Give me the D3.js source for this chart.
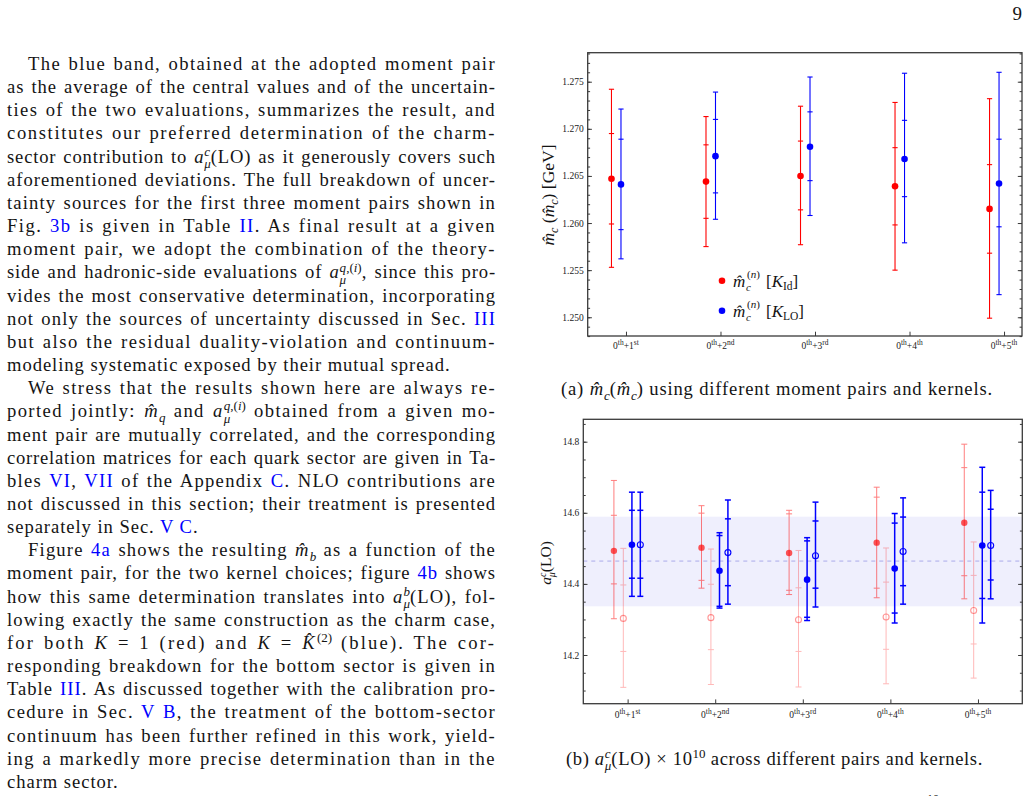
<!DOCTYPE html>
<html><head><meta charset="utf-8">
<script src="https://cdn.jsdelivr.net/npm/d3@7"></script>
<style>
body{margin:0;background:#fff;width:1030px;height:796px;overflow:hidden;position:relative;font-family:"Liberation Serif","Times New Roman",serif;color:#141414;}
#col{position:absolute;left:7px;top:52px;width:489px;font-size:18.6px;letter-spacing:0.45px;}
.l{height:23.16px;line-height:23.16px;white-space:nowrap;}
.ind{padding-left:21px;}
.b{color:#0000ff;}
.ss{display:inline-block;vertical-align:-0.42em;line-height:0.95;font-size:0.7em;text-align:left;letter-spacing:0;}
.ss span{display:block;}
.cap{position:absolute;font-size:18.6px;line-height:23.16px;white-space:nowrap;}
sup.s{font-size:0.7em;line-height:0;vertical-align:0.55em;letter-spacing:0;}
sub.s{font-size:0.7em;line-height:0;letter-spacing:0;}
svg{position:absolute;left:0;top:0;}
</style></head>
<body>
<div id="col">
<div class="l ind"><span class="c">The blue band, obtained at the adopted moment pair</span></div>
<div class="l"><span class="c">as the average of the central values and of the uncertain-</span></div>
<div class="l"><span class="c">ties of the two evaluations, summarizes the result, and</span></div>
<div class="l"><span class="c">constitutes our preferred determination of the charm-</span></div>
<div class="l"><span class="c">sector contribution to <i>a</i><span class="ss"><span><i>c</i></span><span><i>μ</i></span></span>(LO) as it generously covers such</span></div>
<div class="l"><span class="c">aforementioned deviations. The full breakdown of uncer-</span></div>
<div class="l"><span class="c">tainty sources for the first three moment pairs shown in</span></div>
<div class="l"><span class="c">Fig. <span class="b">3b</span> is given in Table <span class="b">II</span>. As final result at a given</span></div>
<div class="l"><span class="c">moment pair, we adopt the combination of the theory-</span></div>
<div class="l"><span class="c">side and hadronic-side evaluations of <i>a</i><span class="ss"><span><i>q</i>,(<i>i</i>)</span><span><i>μ</i></span></span>, since this pro-</span></div>
<div class="l"><span class="c">vides the most conservative determination, incorporating</span></div>
<div class="l"><span class="c">not only the sources of uncertainty discussed in Sec. <span class="b">III</span></span></div>
<div class="l"><span class="c">but also the residual duality-violation and continuum-</span></div>
<div class="l last"><span class="c">modeling systematic exposed by their mutual spread.</span></div>
<div class="l ind"><span class="c">We stress that the results shown here are always re-</span></div>
<div class="l"><span class="c">ported jointly: <i>m̂</i><sub class="s"><i>q</i></sub> and <i>a</i><span class="ss"><span><i>q</i>,(<i>i</i>)</span><span><i>μ</i></span></span> obtained from a given mo-</span></div>
<div class="l"><span class="c">ment pair are mutually correlated, and the corresponding</span></div>
<div class="l"><span class="c">correlation matrices for each quark sector are given in Ta-</span></div>
<div class="l"><span class="c">bles <span class="b">VI</span>, <span class="b">VII</span> of the Appendix <span class="b">C</span>. NLO contributions are</span></div>
<div class="l"><span class="c">not discussed in this section; their treatment is presented</span></div>
<div class="l last"><span class="c">separately in Sec. <span class="b">V C</span>.</span></div>
<div class="l ind"><span class="c">Figure <span class="b">4a</span> shows the resulting <i>m̂</i><sub class="s"><i>b</i></sub> as a function of the</span></div>
<div class="l"><span class="c">moment pair, for the two kernel choices; figure <span class="b">4b</span> shows</span></div>
<div class="l"><span class="c">how this same determination translates into <i>a</i><span class="ss"><span><i>b</i></span><span><i>μ</i></span></span>(LO), fol-</span></div>
<div class="l"><span class="c">lowing exactly the same construction as the charm case,</span></div>
<div class="l"><span class="c">for both <i>K</i> = 1 (red) and <i>K</i> = <i>K̂</i><sup class="s">(2)</sup> (blue). The cor-</span></div>
<div class="l"><span class="c">responding breakdown for the bottom sector is given in</span></div>
<div class="l"><span class="c">Table <span class="b">III</span>. As discussed together with the calibration pro-</span></div>
<div class="l"><span class="c">cedure in Sec. <span class="b">V B</span>, the treatment of the bottom-sector</span></div>
<div class="l"><span class="c">continuum has been further refined in this work, yield-</span></div>
<div class="l"><span class="c">ing a markedly more precise determination than in the</span></div>
<div class="l last"><span class="c">charm sector.</span></div>
</div>
<div class="cap" data-w="432" style="left:561px;top:377px;"><span class="c">(a) <i>m̂</i><sub class="s"><i>c</i></sub>(<i>m̂</i><sub class="s"><i>c</i></sub>) using different moment pairs and kernels.</span></div>
<div class="cap" data-w="417" style="left:566px;top:747px;"><span class="c">(b) <i>a</i><span class="ss"><span><i>c</i></span><span><i>μ</i></span></span>(LO) × 10<sup class="s">10</sup> across different pairs and kernels.</span></div>
<svg id="fig" width="1030" height="796"></svg>
<script>
// ---------- data ----------
const categories = ["1st", "2nd", "3rd", "4th", "5th"];

// (a) charm mass, kernel K_Id (red) and K_LO (blue)
const mcId        = [1.2647, 1.2644, 1.2650, 1.2639, 1.2615];
const mcIdInLo    = [1.2599, 1.2605, 1.2614, 1.2598, 1.2568];
const mcIdInHi    = [1.2695, 1.2683, 1.2687, 1.2680, 1.2662];
const mcIdOutLo   = [1.2553, 1.2575, 1.2577, 1.2550, 1.2499];
const mcIdOutHi   = [1.2742, 1.2713, 1.2724, 1.2728, 1.2732];
const mcLO        = [1.2641, 1.2671, 1.2681, 1.2668, 1.2642];
const mcLOInLo    = [1.2593, 1.2632, 1.2645, 1.2628, 1.2596];
const mcLOInHi    = [1.2689, 1.2710, 1.2718, 1.2709, 1.2689];
const mcLOOutLo   = [1.2562, 1.2604, 1.2608, 1.2579, 1.2524];
const mcLOOutHi   = [1.2721, 1.2739, 1.2755, 1.2759, 1.2760];
const mcMajorTicks = [1.250, 1.255, 1.260, 1.265, 1.270, 1.275];

// (b) a_mu^c(LO) x 1e10
const redFill      = [14.493, 14.502, 14.487, 14.516, 14.572];
const redFillInLo  = [14.400, 14.410, 14.382, 14.388, 14.423];
const redFillInHi  = [14.593, 14.599, 14.597, 14.644, 14.727];
const redFillOutLo = [14.302, 14.388, 14.370, 14.361, 14.358];
const redFillOutHi = [14.691, 14.620, 14.607, 14.672, 14.793];
const redOpen      = [14.303, 14.305, 14.299, 14.307, 14.325];
const redOpenInLo  = [14.210, 14.215, 14.210, 14.216, 14.231];
const redOpenInHi  = [14.397, 14.399, 14.389, 14.405, 14.424];
const redOpenOutLo = [14.109, 14.117, 14.110, 14.119, 14.135];
const redOpenOutHi = [14.500, 14.498, 14.494, 14.501, 14.518];
const blueFill      = [14.510, 14.437, 14.412, 14.443, 14.508];
const blueFillInLo  = [14.416, 14.337, 14.306, 14.318, 14.359];
const blueFillInHi  = [14.607, 14.536, 14.521, 14.571, 14.658];
const blueFillOutLo = [14.365, 14.332, 14.297, 14.290, 14.290];
const blueFillOutHi = [14.658, 14.544, 14.530, 14.598, 14.728];
const blueOpen      = [14.510, 14.488, 14.479, 14.491, 14.508];
const blueOpenInLo  = [14.416, 14.395, 14.388, 14.395, 14.411];
const blueOpenInHi  = [14.607, 14.583, 14.577, 14.588, 14.610];
const blueOpenOutLo = [14.365, 14.343, 14.335, 14.343, 14.358];
const blueOpenOutHi = [14.658, 14.636, 14.630, 14.642, 14.663];
const bandRange  = [14.337, 14.589];
const bandCenter = 14.464;
const aMajorTicks = [14.2, 14.4, 14.6, 14.8];

// ---------- justify text lines exactly ----------
function contentWidth(el) { return el.getBoundingClientRect().width; }
const COLW = 489;
document.querySelectorAll("#col .l").forEach(div => {
  const c = div.querySelector(".c");
  const n = c.textContent.length;
  const spaces = (c.textContent.match(/ /g) || []).length;
  const target = COLW - (div.classList.contains("ind") ? 21 : 0);
  let ls = 0.45;
  if (div.classList.contains("last")) {
    c.style.letterSpacing = "0.95px";
    return;
  }
  // widen glyph spacing so that only ~1.4px per space remains for justification
  const extra0 = target - contentWidth(c);
  ls = Math.max(0, ls + (extra0 - spaces * 1.4) / n);
  c.style.letterSpacing = ls + "px";
  for (let k = 0; k < 3; k++) {
    const extra = target - contentWidth(c);
    const cur = parseFloat(c.style.wordSpacing || "0");
    if (spaces > 0) c.style.wordSpacing = (cur + extra / spaces) + "px";
  }
});
document.querySelectorAll(".cap").forEach(div => {
  const c = div.querySelector(".c");
  const target = +div.dataset.w;
  const n = c.textContent.length;
  let ls = 0;
  for (let k = 0; k < 3; k++) {
    ls += (target - contentWidth(c)) / n;
    c.style.letterSpacing = ls + "px";
  }
});

// ---------- drawing ----------
const svg = d3.select("#fig");
const FRAME = "#3a3a3a";
const SERIF = "Liberation Serif";

svg.append("text").attr("x", 1022).attr("y", 20).attr("text-anchor", "end")
  .attr("font-family", SERIF).attr("font-size", 19).attr("fill", "#141414").text("9");
svg.append("text").attr("x", 927).attr("y", 803)
  .attr("font-family", SERIF).attr("font-size", 12).attr("fill", "#141414").text("10");

function frame(cfg) {
  const g = svg.append("g");
  const x = d3.scaleLinear().domain(cfg.xd).range([cfg.L, cfg.R]);
  const y = d3.scaleLinear().domain(cfg.yd).range([cfg.B, cfg.T]);
  return {g, x, y};
}

function axes(P, cfg) {
  const {g, x, y} = P;
  const minor = d3.range(cfg.minor[0], cfg.minor[1] + 1e-9, cfg.minor[2]);
  const styleAx = sel => { sel.select(".domain").remove(); sel.selectAll("line").attr("stroke", FRAME).attr("stroke-width", 1); };
  g.append("g").attr("transform", `translate(${cfg.L},0)`)
    .call(d3.axisLeft(y).tickValues(cfg.major).tickSize(-4.2).tickPadding(6).tickFormat(d3.format(cfg.fmt)))
    .call(styleAx)
    .call(s => s.selectAll("text").attr("font-family", SERIF).attr("font-size", 9.5).attr("fill", "#222").attr("x", -4));
  g.append("g").attr("transform", `translate(${cfg.L},0)`)
    .call(d3.axisLeft(y).tickValues(minor).tickSize(-2.4).tickFormat(""))
    .call(styleAx);
  g.append("g").attr("transform", `translate(${cfg.R},0)`)
    .call(d3.axisRight(y).tickValues(cfg.major).tickSize(-4.2).tickFormat(""))
    .call(styleAx);
  g.append("g").attr("transform", `translate(${cfg.R},0)`)
    .call(d3.axisRight(y).tickValues(minor).tickSize(-2.4).tickFormat(""))
    .call(styleAx);
  g.append("g").attr("transform", `translate(0,${cfg.B})`)
    .call(d3.axisBottom(x).tickValues(d3.range(1, categories.length + 1)).tickSize(-4.3).tickFormat(""))
    .call(styleAx);
  categories.forEach((c, i) => {
    const t = g.append("text").attr("x", x(i + 1)).attr("y", cfg.labY).attr("text-anchor", "middle")
      .attr("font-family", SERIF).attr("font-size", 9.5).attr("fill", "#222");
    t.append("tspan").text("0");
    t.append("tspan").attr("font-size", 7.5).attr("dy", -3.6).text("th");
    t.append("tspan").attr("dy", 3.6).text("+" + c.slice(0, 1));
    t.append("tspan").attr("font-size", 7.5).attr("dy", -3.6).text(c.slice(1));
  });
  g.append("rect").attr("x", cfg.L).attr("y", cfg.T).attr("width", cfg.R - cfg.L).attr("height", cfg.B - cfg.T)
    .attr("fill", "none").attr("stroke", FRAME).attr("stroke-width", 1.3);
}

function series(P, s) {
  const {g, x, y} = P;
  const gb = g.append("g").attr("opacity", s.barOp);
  s.c.forEach((v, i) => {
    const cx = x(i + 1) + s.off;
    const all = [s.iLo[i], s.iHi[i], s.oLo[i], s.oHi[i]];
    gb.append("line").attr("x1", cx).attr("x2", cx)
      .attr("y1", y(d3.min(all))).attr("y2", y(d3.max(all)))
      .attr("stroke", s.color).attr("stroke-width", s.w);
    all.forEach(val => {
      gb.append("line").attr("x1", cx - s.cap).attr("x2", cx + s.cap)
        .attr("y1", y(val)).attr("y2", y(val))
        .attr("stroke", s.color).attr("stroke-width", s.w);
    });
  });
  g.append("g").attr("opacity", s.dotOp).selectAll("circle").data(s.c).join("circle")
    .attr("cx", (d, i) => x(i + 1) + s.off).attr("cy", d => y(d))
    .attr("r", s.open ? 3.0 : s.r)
    .attr("fill", s.open ? "none" : s.color)
    .attr("stroke", s.open ? s.color : "none").attr("stroke-width", 1.1);
}

// ----- chart (a) -----
const cfgA = {L: 587.7, R: 1022, T: 52.7, B: 336, xd: [0.595, 5.19], yd: [1.24801, 1.27808],
  major: mcMajorTicks, minor: [1.248, 1.278, 0.001], fmt: ".3f", labY: 349};
const A = frame(cfgA);
axes(A, cfgA);
series(A, {c: mcId, iLo: mcIdInLo, iHi: mcIdInHi, oLo: mcIdOutLo, oHi: mcIdOutHi,
  off: -14.5, color: "#ff0000", w: 1.1, cap: 2.6, r: 3.3, barOp: 1, dotOp: 1});
series(A, {c: mcLO, iLo: mcLOInLo, iHi: mcLOInHi, oLo: mcLOOutLo, oHi: mcLOOutHi,
  off: -5, color: "#0000ff", w: 1.1, cap: 2.6, r: 3.3, barOp: 1, dotOp: 1});

{
  const t = A.g.append("text").attr("transform", "translate(554,195) rotate(-90)").attr("text-anchor", "middle")
    .attr("font-family", SERIF).attr("font-size", 17.5).attr("fill", "#141414");
  t.append("tspan").attr("font-style", "italic").text("m̂");
  t.append("tspan").attr("font-style", "italic").attr("font-size", 12).attr("dy", 3.5).text("c");
  t.append("tspan").attr("dy", -3.5).text(" (");
  t.append("tspan").attr("font-style", "italic").text("m̂");
  t.append("tspan").attr("font-style", "italic").attr("font-size", 12).attr("dy", 3.5).text("c");
  t.append("tspan").attr("dy", -3.5).text(") [GeV]");
}
{
  const leg = [{color: "#ff0000", sub: "Id", y: 280.7}, {color: "#0000ff", sub: "LO", y: 310.7}];
  leg.forEach(d => {
    A.g.append("circle").attr("cx", 722).attr("cy", d.y).attr("r", 3.3).attr("fill", d.color);
    const base = d.y + 6;
    A.g.append("text").attr("x", 733).attr("y", base).attr("font-family", SERIF)
      .attr("font-size", 17).attr("font-style", "italic").attr("fill", "#141414").text("m̂");
    const sup = A.g.append("text").attr("x", 747).attr("y", base - 9).attr("font-family", SERIF)
      .attr("font-size", 11).attr("fill", "#141414");
    sup.append("tspan").text("(");
    sup.append("tspan").attr("font-style", "italic").text("n");
    sup.append("tspan").text(")");
    A.g.append("text").attr("x", 746).attr("y", base + 4).attr("font-family", SERIF)
      .attr("font-size", 11).attr("font-style", "italic").attr("fill", "#141414").text("c");
    const t = A.g.append("text").attr("x", 766).attr("y", base).attr("font-family", SERIF)
      .attr("font-size", 17).attr("fill", "#141414");
    t.append("tspan").text("[");
    t.append("tspan").attr("font-style", "italic").text("K");
    t.append("tspan").attr("font-size", 11.5).attr("dy", 3).text(d.sub);
    t.append("tspan").attr("dy", -3).text("]");
  });
}

// ----- chart (b) -----
const cfgB = {L: 583.3, R: 1022.3, T: 419.3, B: 703.7, xd: [0.494, 5.506], yd: [14.063, 14.863],
  major: aMajorTicks, minor: [14.1, 14.85, 0.05], fmt: ".1f", labY: 717.5};
const Bc = frame(cfgB);
Bc.g.append("rect").attr("x", cfgB.L).attr("width", cfgB.R - cfgB.L)
  .attr("y", Bc.y(bandRange[1])).attr("height", Bc.y(bandRange[0]) - Bc.y(bandRange[1]))
  .attr("fill", "#efeffd");
Bc.g.append("line").attr("x1", cfgB.L).attr("x2", cfgB.R)
  .attr("y1", Bc.y(bandCenter)).attr("y2", Bc.y(bandCenter))
  .attr("stroke", "#c8c8f2").attr("stroke-width", 1.6).attr("stroke-dasharray", "4,4");
axes(Bc, cfgB);
series(Bc, {c: redFill, iLo: redFillInLo, iHi: redFillInHi, oLo: redFillOutLo, oHi: redFillOutHi,
  off: -13.7, color: "#ff0000", w: 1, cap: 3, r: 3.2, barOp: 0.5, dotOp: 0.66});
series(Bc, {c: redOpen, iLo: redOpenInLo, iHi: redOpenInHi, oLo: redOpenOutLo, oHi: redOpenOutHi,
  off: -4.3, color: "#ff0000", w: 1, cap: 3, r: 3, open: true, barOp: 0.27, dotOp: 0.4});
series(Bc, {c: blueFill, iLo: blueFillInLo, iHi: blueFillInHi, oLo: blueFillOutLo, oHi: blueFillOutHi,
  off: 4.3, color: "#0000ff", w: 1.5, cap: 3, r: 3.3, barOp: 1, dotOp: 1});
series(Bc, {c: blueOpen, iLo: blueOpenInLo, iHi: blueOpenInHi, oLo: blueOpenOutLo, oHi: blueOpenOutHi,
  off: 12.7, color: "#0000ff", w: 1.5, cap: 3, r: 3, open: true, barOp: 1, dotOp: 1});
{
  const t = Bc.g.append("text").attr("transform", "translate(551,563) rotate(-90)").attr("text-anchor", "middle")
    .attr("font-family", SERIF).attr("font-size", 15.5).attr("fill", "#141414");
  t.append("tspan").attr("font-style", "italic").text("a");
  t.append("tspan").attr("font-style", "italic").attr("font-size", 10).attr("dy", -5).text("c");
  t.append("tspan").attr("font-style", "italic").attr("font-size", 10).attr("dx", -4.5).attr("dy", 9).text("μ");
  t.append("tspan").attr("dy", -4).text("(LO)");
}
</script>
</body></html>
